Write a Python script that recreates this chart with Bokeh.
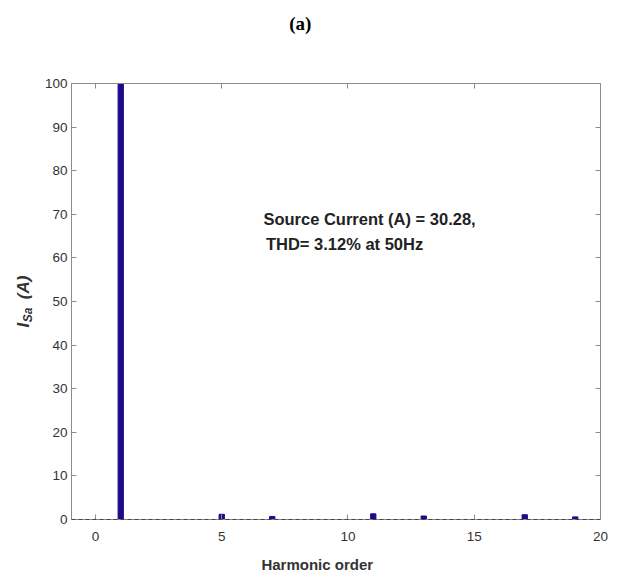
from bokeh.plotting import figure
from bokeh.models import Label, Range1d, LinearAxis, FixedTicker, Span
from bokeh.embed import file_html
from bokeh.resources import INLINE

harmonics = [1, 5, 7, 11, 13, 17, 19]
magnitudes = [100, 1.2, 0.7, 1.3, 0.8, 1.1, 0.6]
x_ticks = [0, 5, 10, 15, 20]
y_ticks = [0, 10, 20, 30, 40, 50, 60, 70, 80, 90, 100]
annot_line1 = "Source Current (A) = 30.28,"
annot_line2 = "THD= 3.12% at 50Hz"
panel_tag = "(a)"
x_title = "Harmonic order"

FONT = "Liberation Sans"
NB = "\u00a0"
GRAY = "#8c8c8c"

p = figure(width=621, height=585, output_backend="svg", toolbar_location=None,
           x_range=Range1d(-0.95, 20), y_range=Range1d(0, 100),
           min_border_left=71, min_border_right=21, min_border_top=83, min_border_bottom=66)
p.grid.visible = False
p.outline_line_color = GRAY
p.outline_line_width = 1

p.vbar(x=harmonics, top=magnitudes, width=0.21, bottom=0,
       fill_color="#1c0c8a", line_color="#1c0c8a")

p.add_layout(Span(location=0, dimension="width", line_color="black",
                  line_dash="4 3", line_width=1.2))

for ax in [p.xaxis[0], p.yaxis[0]]:
    ax.major_tick_in = 5
    ax.major_tick_out = 0
    ax.minor_tick_line_color = None
    ax.axis_line_color = GRAY
    ax.major_tick_line_color = GRAY
    ax.major_label_text_font = FONT
    ax.major_label_text_font_size = "13.5px"
    ax.major_label_text_color = "#333333"

p.xaxis[0].ticker = FixedTicker(ticks=x_ticks)
p.yaxis[0].ticker = FixedTicker(ticks=y_ticks)
p.xaxis[0].axis_label = x_title + NB * 9
p.xaxis[0].axis_label_text_font = FONT
p.xaxis[0].axis_label_text_font_style = "bold"
p.xaxis[0].axis_label_text_font_size = "15px"
p.xaxis[0].axis_label_text_color = "#333333"
p.xaxis[0].axis_label_standoff = 12
p.xaxis[0].major_label_standoff = 12

# inner y axis carries the subscript "Sa"
ya = p.yaxis[0]
ya.major_label_standoff = 4
ya.axis_label = "Sa" + NB * 8
ya.axis_label_text_font = FONT
ya.axis_label_text_font_style = "bold italic"
ya.axis_label_text_font_size = "12px"
ya.axis_label_text_color = "#333333"
ya.axis_label_standoff = 7

# outer left axis carries "I (A)"
outer = LinearAxis(ticker=FixedTicker(ticks=[]), axis_line_color=None,
                   major_tick_line_color=None, minor_tick_line_color=None,
                   major_tick_in=0, major_tick_out=0, major_label_standoff=0,
                   axis_label="I" + NB * 5 + "(A)", axis_label_text_font=FONT,
                   axis_label_text_font_style="bold italic", axis_label_text_font_size="17px",
                   axis_label_text_color="#333333", axis_label_standoff=-15)
p.add_layout(outer, "left")

top_ax = LinearAxis(ticker=FixedTicker(ticks=x_ticks),
                    major_label_overrides={t: "" for t in x_ticks},
                    major_tick_in=5, major_tick_out=0, minor_tick_line_color=None,
                    axis_line_color=GRAY, major_tick_line_color=GRAY,
                    major_label_standoff=0,
                    axis_label=panel_tag + NB * 15, axis_label_text_font="Liberation Serif",
                    axis_label_text_font_style="bold", axis_label_text_font_size="19px",
                    axis_label_text_color="black", axis_label_standoff=50)
right_ax = LinearAxis(ticker=FixedTicker(ticks=y_ticks),
                      major_label_overrides={t: "" for t in y_ticks},
                      major_tick_in=5, major_tick_out=0, minor_tick_line_color=None,
                      axis_line_color=GRAY, major_tick_line_color=GRAY,
                      major_label_standoff=0)
p.add_layout(top_ax, "above")
p.add_layout(right_ax, "right")

# annotation
p.add_layout(Label(x=6.65, y=69, text=annot_line1, text_font=FONT, text_font_style="bold",
                   text_font_size="16.5px", text_color="#222222", text_baseline="middle"))
p.add_layout(Label(x=6.75, y=63.3, text=annot_line2, text_font=FONT, text_font_style="bold",
                   text_font_size="16.5px", text_color="#222222", text_baseline="middle"))

open("out.html", "w").write(file_html(p, INLINE))
